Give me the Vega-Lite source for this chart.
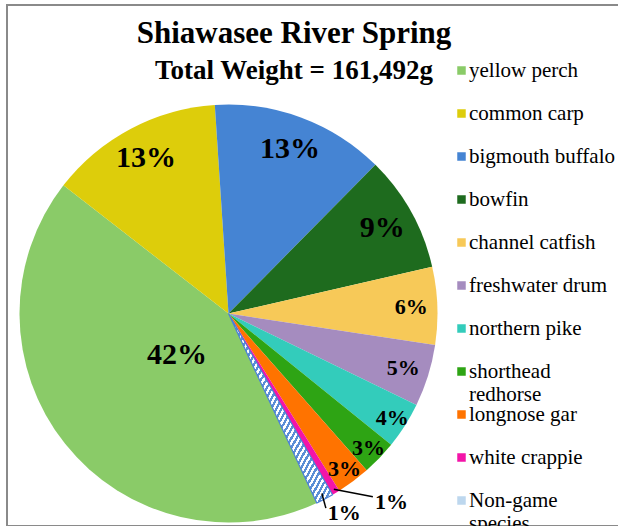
{
  "$schema": "https://vega.github.io/schema/vega-lite/v6.json",
  "width": 620,
  "height": 521,
  "autosize": "none",
  "padding": {"left": 7, "top": 5, "right": 0, "bottom": 0},
  "background": "white",
  "config": {
    "view": {"stroke": "#8a8a8a", "strokeWidth": 2},
    "font": "Liberation Serif",
    "legend": {"padding": 0}
  },
  "title": {
    "text": "Shiawasee River Spring",
    "subtitle": "Total Weight = 161,492g",
    "font": "Liberation Serif",
    "fontSize": 31,
    "fontWeight": "bold",
    "color": "black",
    "subtitleFont": "Liberation Serif",
    "subtitleFontSize": 27,
    "subtitleFontWeight": "bold",
    "subtitleColor": "black",
    "subtitlePadding": 8,
    "anchor": "middle",
    "dx": -23,
    "offset": -80
  },
  "data": {
    "values": [
      {"species": "yellow perch", "share": 0.4245, "rank": 1},
      {"species": "common carp", "share": 0.1345, "rank": 2},
      {"species": "bigmouth buffalo", "share": 0.1345, "rank": 3},
      {"species": "bowfin", "share": 0.090, "rank": 4},
      {"species": "channel catfish", "share": 0.060, "rank": 5},
      {"species": "freshwater drum", "share": 0.048, "rank": 6},
      {"species": "northern pike", "share": 0.036, "rank": 7},
      {"species": "shorthead redhorse", "share": 0.027, "rank": 8},
      {"species": "longnose gar", "share": 0.026, "rank": 9},
      {"species": "white crappie", "share": 0.006, "rank": 10},
      {"species": "Non-game species", "share": 0.0135, "rank": 11}
    ]
  },
  "layer": [
    {
      "mark": {"type": "arc", "outerRadius": 209, "strokeWidth": 1.2},
      "encoding": {
        "x": {"datum": 0, "type": "quantitative", "scale": {"domain": [-1.0598, 1.9067], "nice": false, "zero": false}, "axis": null},
        "y": {"datum": 0, "type": "quantitative", "scale": {"domain": [-1.0167, 1.4761], "nice": false, "zero": false}, "axis": null},
        "theta": {"field": "share", "type": "quantitative", "stack": true, "scale": {"domain": [0, 1], "range": [2.7053, 8.9885]}},
        "order": {"field": "rank", "type": "quantitative"},
        "color": {
          "field": "species",
          "type": "nominal",
          "sort": null,
          "scale": {
            "domain": ["yellow perch", "common carp", "bigmouth buffalo", "bowfin", "channel catfish", "freshwater drum", "northern pike", "shorthead redhorse", "longnose gar", "white crappie", "Non-game species"],
            "range": ["#8ACB68", "#DDCD0B", "#4584D3", "#1E6B1E", "#F7C958", "#A58CBF", "#33CCBB", "#2EA414", "#FF7300", "#F314A8", "#BDD7EE"]
          },
          "condition": {
            "test": "datum.species === 'Non-game species'",
            "value": {
              "gradient": "linear", "x1": 0, "y1": 0, "x2": 1, "y2": 1,
              "stops": [
                {"offset": 0, "color": "#5B8FD6"}, {"offset": 0.0125, "color": "#5B8FD6"}, {"offset": 0.0125, "color": "#FFFFFF"}, {"offset": 0.025, "color": "#FFFFFF"},
                {"offset": 0.025, "color": "#5B8FD6"}, {"offset": 0.0375, "color": "#5B8FD6"}, {"offset": 0.0375, "color": "#FFFFFF"}, {"offset": 0.05, "color": "#FFFFFF"},
                {"offset": 0.05, "color": "#5B8FD6"}, {"offset": 0.0625, "color": "#5B8FD6"}, {"offset": 0.0625, "color": "#FFFFFF"}, {"offset": 0.075, "color": "#FFFFFF"},
                {"offset": 0.075, "color": "#5B8FD6"}, {"offset": 0.0875, "color": "#5B8FD6"}, {"offset": 0.0875, "color": "#FFFFFF"}, {"offset": 0.1, "color": "#FFFFFF"},
                {"offset": 0.1, "color": "#5B8FD6"}, {"offset": 0.1125, "color": "#5B8FD6"}, {"offset": 0.1125, "color": "#FFFFFF"}, {"offset": 0.125, "color": "#FFFFFF"},
                {"offset": 0.125, "color": "#5B8FD6"}, {"offset": 0.1375, "color": "#5B8FD6"}, {"offset": 0.1375, "color": "#FFFFFF"}, {"offset": 0.15, "color": "#FFFFFF"},
                {"offset": 0.15, "color": "#5B8FD6"}, {"offset": 0.1625, "color": "#5B8FD6"}, {"offset": 0.1625, "color": "#FFFFFF"}, {"offset": 0.175, "color": "#FFFFFF"},
                {"offset": 0.175, "color": "#5B8FD6"}, {"offset": 0.1875, "color": "#5B8FD6"}, {"offset": 0.1875, "color": "#FFFFFF"}, {"offset": 0.2, "color": "#FFFFFF"},
                {"offset": 0.2, "color": "#5B8FD6"}, {"offset": 0.2125, "color": "#5B8FD6"}, {"offset": 0.2125, "color": "#FFFFFF"}, {"offset": 0.225, "color": "#FFFFFF"},
                {"offset": 0.225, "color": "#5B8FD6"}, {"offset": 0.2375, "color": "#5B8FD6"}, {"offset": 0.2375, "color": "#FFFFFF"}, {"offset": 0.25, "color": "#FFFFFF"},
                {"offset": 0.25, "color": "#5B8FD6"}, {"offset": 0.2625, "color": "#5B8FD6"}, {"offset": 0.2625, "color": "#FFFFFF"}, {"offset": 0.275, "color": "#FFFFFF"},
                {"offset": 0.275, "color": "#5B8FD6"}, {"offset": 0.2875, "color": "#5B8FD6"}, {"offset": 0.2875, "color": "#FFFFFF"}, {"offset": 0.3, "color": "#FFFFFF"},
                {"offset": 0.3, "color": "#5B8FD6"}, {"offset": 0.3125, "color": "#5B8FD6"}, {"offset": 0.3125, "color": "#FFFFFF"}, {"offset": 0.325, "color": "#FFFFFF"},
                {"offset": 0.325, "color": "#5B8FD6"}, {"offset": 0.3375, "color": "#5B8FD6"}, {"offset": 0.3375, "color": "#FFFFFF"}, {"offset": 0.35, "color": "#FFFFFF"},
                {"offset": 0.35, "color": "#5B8FD6"}, {"offset": 0.3625, "color": "#5B8FD6"}, {"offset": 0.3625, "color": "#FFFFFF"}, {"offset": 0.375, "color": "#FFFFFF"},
                {"offset": 0.375, "color": "#5B8FD6"}, {"offset": 0.3875, "color": "#5B8FD6"}, {"offset": 0.3875, "color": "#FFFFFF"}, {"offset": 0.4, "color": "#FFFFFF"},
                {"offset": 0.4, "color": "#5B8FD6"}, {"offset": 0.4125, "color": "#5B8FD6"}, {"offset": 0.4125, "color": "#FFFFFF"}, {"offset": 0.425, "color": "#FFFFFF"},
                {"offset": 0.425, "color": "#5B8FD6"}, {"offset": 0.4375, "color": "#5B8FD6"}, {"offset": 0.4375, "color": "#FFFFFF"}, {"offset": 0.45, "color": "#FFFFFF"},
                {"offset": 0.45, "color": "#5B8FD6"}, {"offset": 0.4625, "color": "#5B8FD6"}, {"offset": 0.4625, "color": "#FFFFFF"}, {"offset": 0.475, "color": "#FFFFFF"},
                {"offset": 0.475, "color": "#5B8FD6"}, {"offset": 0.4875, "color": "#5B8FD6"}, {"offset": 0.4875, "color": "#FFFFFF"}, {"offset": 0.5, "color": "#FFFFFF"},
                {"offset": 0.5, "color": "#5B8FD6"}, {"offset": 0.5125, "color": "#5B8FD6"}, {"offset": 0.5125, "color": "#FFFFFF"}, {"offset": 0.525, "color": "#FFFFFF"},
                {"offset": 0.525, "color": "#5B8FD6"}, {"offset": 0.5375, "color": "#5B8FD6"}, {"offset": 0.5375, "color": "#FFFFFF"}, {"offset": 0.55, "color": "#FFFFFF"},
                {"offset": 0.55, "color": "#5B8FD6"}, {"offset": 0.5625, "color": "#5B8FD6"}, {"offset": 0.5625, "color": "#FFFFFF"}, {"offset": 0.575, "color": "#FFFFFF"},
                {"offset": 0.575, "color": "#5B8FD6"}, {"offset": 0.5875, "color": "#5B8FD6"}, {"offset": 0.5875, "color": "#FFFFFF"}, {"offset": 0.6, "color": "#FFFFFF"},
                {"offset": 0.6, "color": "#5B8FD6"}, {"offset": 0.6125, "color": "#5B8FD6"}, {"offset": 0.6125, "color": "#FFFFFF"}, {"offset": 0.625, "color": "#FFFFFF"},
                {"offset": 0.625, "color": "#5B8FD6"}, {"offset": 0.6375, "color": "#5B8FD6"}, {"offset": 0.6375, "color": "#FFFFFF"}, {"offset": 0.65, "color": "#FFFFFF"},
                {"offset": 0.65, "color": "#5B8FD6"}, {"offset": 0.6625, "color": "#5B8FD6"}, {"offset": 0.6625, "color": "#FFFFFF"}, {"offset": 0.675, "color": "#FFFFFF"},
                {"offset": 0.675, "color": "#5B8FD6"}, {"offset": 0.6875, "color": "#5B8FD6"}, {"offset": 0.6875, "color": "#FFFFFF"}, {"offset": 0.7, "color": "#FFFFFF"},
                {"offset": 0.7, "color": "#5B8FD6"}, {"offset": 0.7125, "color": "#5B8FD6"}, {"offset": 0.7125, "color": "#FFFFFF"}, {"offset": 0.725, "color": "#FFFFFF"},
                {"offset": 0.725, "color": "#5B8FD6"}, {"offset": 0.7375, "color": "#5B8FD6"}, {"offset": 0.7375, "color": "#FFFFFF"}, {"offset": 0.75, "color": "#FFFFFF"},
                {"offset": 0.75, "color": "#5B8FD6"}, {"offset": 0.7625, "color": "#5B8FD6"}, {"offset": 0.7625, "color": "#FFFFFF"}, {"offset": 0.775, "color": "#FFFFFF"},
                {"offset": 0.775, "color": "#5B8FD6"}, {"offset": 0.7875, "color": "#5B8FD6"}, {"offset": 0.7875, "color": "#FFFFFF"}, {"offset": 0.8, "color": "#FFFFFF"},
                {"offset": 0.8, "color": "#5B8FD6"}, {"offset": 0.8125, "color": "#5B8FD6"}, {"offset": 0.8125, "color": "#FFFFFF"}, {"offset": 0.825, "color": "#FFFFFF"},
                {"offset": 0.825, "color": "#5B8FD6"}, {"offset": 0.8375, "color": "#5B8FD6"}, {"offset": 0.8375, "color": "#FFFFFF"}, {"offset": 0.85, "color": "#FFFFFF"},
                {"offset": 0.85, "color": "#5B8FD6"}, {"offset": 0.8625, "color": "#5B8FD6"}, {"offset": 0.8625, "color": "#FFFFFF"}, {"offset": 0.875, "color": "#FFFFFF"},
                {"offset": 0.875, "color": "#5B8FD6"}, {"offset": 0.8875, "color": "#5B8FD6"}, {"offset": 0.8875, "color": "#FFFFFF"}, {"offset": 0.9, "color": "#FFFFFF"},
                {"offset": 0.9, "color": "#5B8FD6"}, {"offset": 0.9125, "color": "#5B8FD6"}, {"offset": 0.9125, "color": "#FFFFFF"}, {"offset": 0.925, "color": "#FFFFFF"},
                {"offset": 0.925, "color": "#5B8FD6"}, {"offset": 0.9375, "color": "#5B8FD6"}, {"offset": 0.9375, "color": "#FFFFFF"}, {"offset": 0.95, "color": "#FFFFFF"},
                {"offset": 0.95, "color": "#5B8FD6"}, {"offset": 0.9625, "color": "#5B8FD6"}, {"offset": 0.9625, "color": "#FFFFFF"}, {"offset": 0.975, "color": "#FFFFFF"},
                {"offset": 0.975, "color": "#5B8FD6"}, {"offset": 0.9875, "color": "#5B8FD6"}, {"offset": 0.9875, "color": "#FFFFFF"}, {"offset": 1, "color": "#FFFFFF"}
              ]
            }
          },
          "legend": {
            "orient": "none",
            "legendX": 444,
            "legendY": 56,
            "title": null,
            "symbolType": "square",
            "symbolSize": 72,
            "symbolStrokeWidth": 0,
            "labelFont": "Liberation Serif",
            "labelFontSize": 21,
            "labelColor": "black",
            "labelLimit": 300,
            "labelOffset": -3,
            "clipHeight": 19,
            "rowPadding": -4.1,
            "labelExpr": "datum.label === 'shorthead redhorse' ? ['shorthead', 'redhorse'] : datum.label === 'Non-game species' ? ['Non-game', 'species'] : [datum.label, ' ']",
            "encode": {
              "symbols": {
                "update": {
                  "stroke": {"signal": "datum.value === 'Non-game species' ? '#4A7FD4' : 'transparent'"},
                  "strokeWidth": {"value": 1.5}
                }
              },
              "labels": {
                "update": {
                  "lineHeight": {"value": 23},
                  "dy": {"value": 11.5}
                }
              }
            }
          }
        },
        "stroke": {
          "condition": {"test": "datum.species === 'Non-game species'", "value": "#4A7FD4"},
          "value": "transparent"
        }
      }
    },
    {
      "mark": {"type": "text", "font": "Liberation Serif", "fontWeight": "bold", "fontSize": 30, "color": "black", "radius": 66},
      "encoding": {
        "x": {"datum": 0, "type": "quantitative", "scale": {"domain": [-1.0598, 1.9067], "nice": false, "zero": false}, "axis": null},
        "y": {"datum": 0, "type": "quantitative", "scale": {"domain": [-1.0167, 1.4761], "nice": false, "zero": false}, "axis": null},
        "theta": {"field": "share", "type": "quantitative", "stack": true, "scale": {"domain": [0, 1], "range": [2.7053, 8.9885]}},
        "order": {"field": "rank", "type": "quantitative"},
        "text": {"condition": {"test": "datum.rank === 1", "field": "share", "type": "quantitative", "format": ".0%"}, "value": ""}
      }
    },
    {
      "mark": {"type": "text", "font": "Liberation Serif", "fontWeight": "bold", "fontSize": 30, "color": "black", "radius": 176},
      "encoding": {
        "x": {"datum": 0, "type": "quantitative", "scale": {"domain": [-1.0598, 1.9067], "nice": false, "zero": false}, "axis": null},
        "y": {"datum": 0, "type": "quantitative", "scale": {"domain": [-1.0167, 1.4761], "nice": false, "zero": false}, "axis": null},
        "theta": {"field": "share", "type": "quantitative", "stack": true, "scale": {"domain": [0, 1], "range": [2.7053, 8.9885]}},
        "order": {"field": "rank", "type": "quantitative"},
        "text": {"condition": {"test": "datum.rank >= 2 && datum.rank <= 4", "field": "share", "type": "quantitative", "format": ".0%"}, "value": ""}
      }
    },
    {
      "mark": {"type": "text", "font": "Liberation Serif", "fontWeight": "bold", "fontSize": 22, "color": "black", "radius": 183},
      "encoding": {
        "x": {"datum": 0, "type": "quantitative", "scale": {"domain": [-1.0598, 1.9067], "nice": false, "zero": false}, "axis": null},
        "y": {"datum": 0, "type": "quantitative", "scale": {"domain": [-1.0167, 1.4761], "nice": false, "zero": false}, "axis": null},
        "theta": {"field": "share", "type": "quantitative", "stack": true, "scale": {"domain": [0, 1], "range": [2.7053, 8.9885]}},
        "order": {"field": "rank", "type": "quantitative"},
        "text": {"condition": {"test": "datum.rank >= 5 && datum.rank <= 6", "field": "share", "type": "quantitative", "format": ".0%"}, "value": ""}
      }
    },
    {
      "mark": {"type": "text", "font": "Liberation Serif", "fontWeight": "bold", "fontSize": 22, "color": "black", "radius": 194},
      "encoding": {
        "x": {"datum": 0, "type": "quantitative", "scale": {"domain": [-1.0598, 1.9067], "nice": false, "zero": false}, "axis": null},
        "y": {"datum": 0, "type": "quantitative", "scale": {"domain": [-1.0167, 1.4761], "nice": false, "zero": false}, "axis": null},
        "theta": {"field": "share", "type": "quantitative", "stack": true, "scale": {"domain": [0, 1], "range": [2.7053, 8.9885]}},
        "order": {"field": "rank", "type": "quantitative"},
        "text": {"condition": {"test": "datum.rank >= 7 && datum.rank <= 9", "field": "share", "type": "quantitative", "format": ".0%"}, "value": ""}
      }
    },
    {
      "transform": [
        {"stack": "share", "groupby": [], "sort": [{"field": "rank", "order": "ascending"}], "as": ["s0", "s1"]},
        {"filter": "datum.rank >= 10"},
        {"calculate": "2.7053 + (datum.s0 + datum.s1) * PI", "as": "ang"},
        {"calculate": "datum.rank === 10 ? 0.98 : 0.97", "as": "r0"},
        {"calculate": "datum.r0 * sin(datum.ang)", "as": "lx"},
        {"calculate": "datum.r0 * cos(datum.ang)", "as": "ly"},
        {"calculate": "datum.lx + (datum.rank === 10 ? 0.187 : 0.019)", "as": "lx2"},
        {"calculate": "datum.ly - (datum.rank === 10 ? 0.036 : 0.070)", "as": "ly2"}
      ],
      "layer": [
        {
          "mark": {"type": "rule", "color": "black", "strokeWidth": 1.5},
          "encoding": {
            "x": {"field": "lx", "type": "quantitative", "scale": {"domain": [-1.0598, 1.9067], "nice": false, "zero": false}, "axis": null},
            "y": {"field": "ly", "type": "quantitative", "scale": {"domain": [-1.0167, 1.4761], "nice": false, "zero": false}, "axis": null},
            "x2": {"field": "lx2"},
            "y2": {"field": "ly2"}
          }
        },
        {
          "mark": {"type": "text", "font": "Liberation Serif", "fontWeight": "bold", "fontSize": 22, "color": "black", "align": "left", "baseline": "middle", "dx": 2, "dy": 5},
          "encoding": {
            "x": {"field": "lx2", "type": "quantitative", "scale": {"domain": [-1.0598, 1.9067], "nice": false, "zero": false}, "axis": null},
            "y": {"field": "ly2", "type": "quantitative", "scale": {"domain": [-1.0167, 1.4761], "nice": false, "zero": false}, "axis": null},
            "text": {"field": "share", "type": "quantitative", "format": ".0%"}
          }
        }
      ]
    }
  ]
}
